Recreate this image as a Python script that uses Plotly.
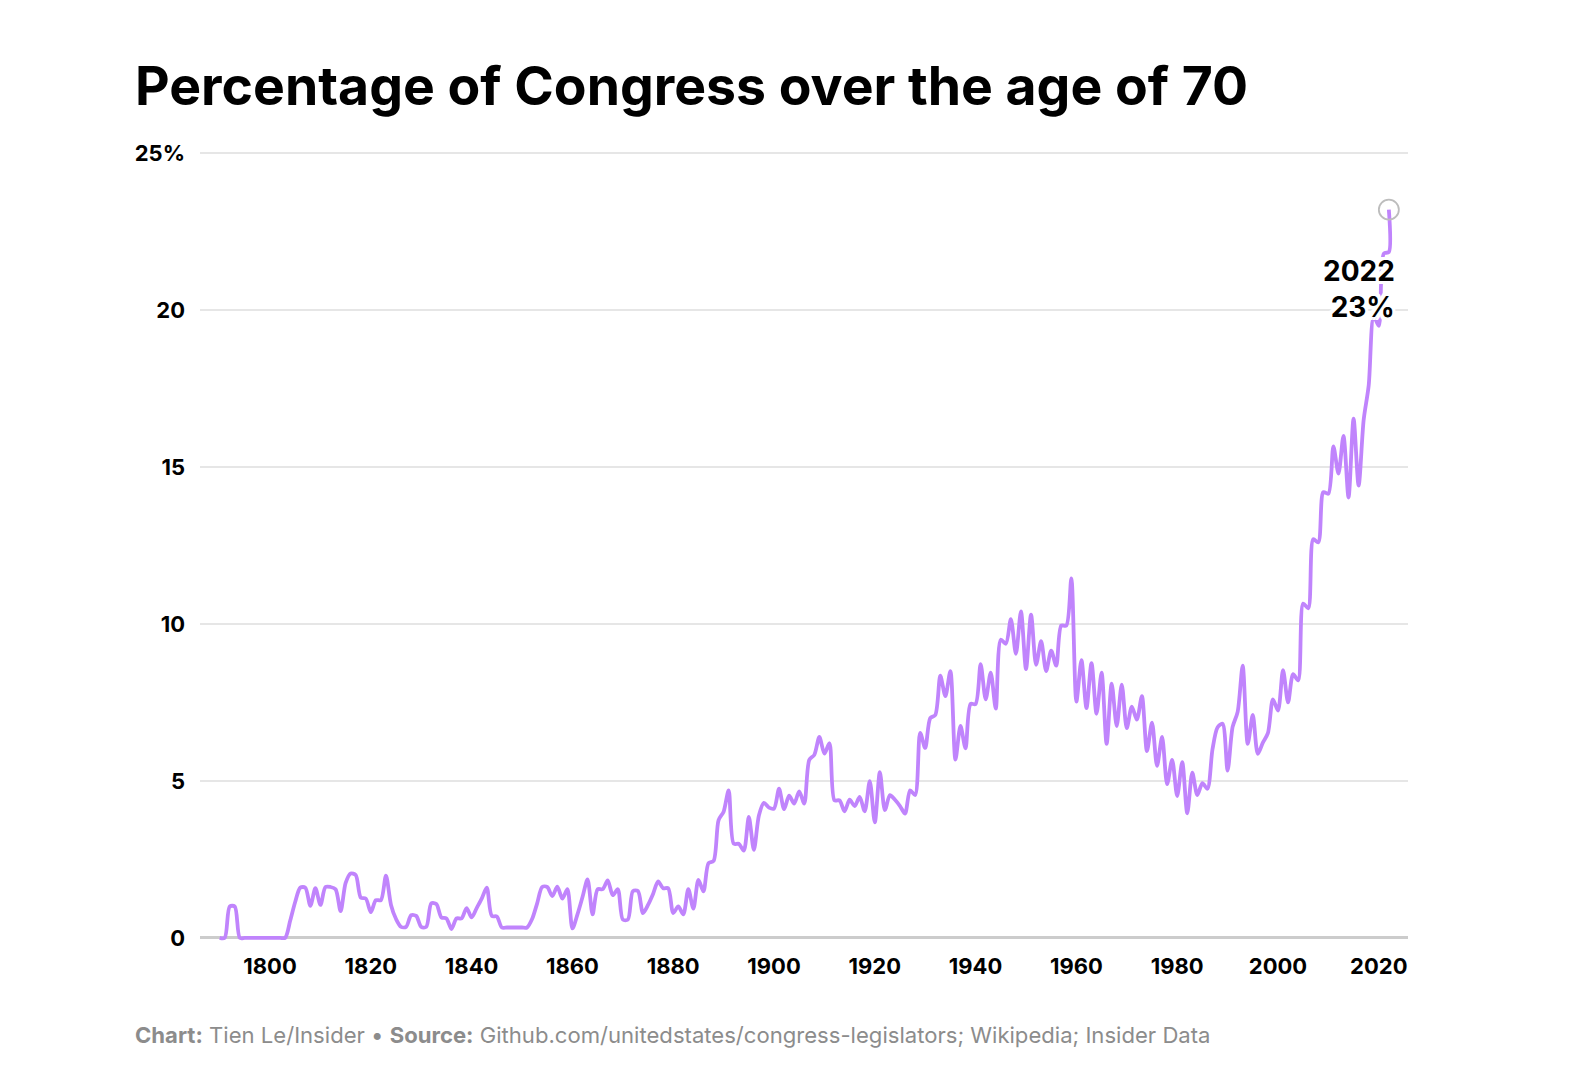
import plotly.graph_objects as go

# ---- data ----
years = list(range(1790, 2023)) + [2022]

values = [
    # 1790-1799
    0, 0, 1.0, 1.0, 0, 0, 0, 0, 0, 0,
    # 1800-1809
    0, 0, 0, 0, 0.55, 1.15, 1.6, 1.6, 1.02, 1.58,
    # 1810-1819
    1.05, 1.62, 1.62, 1.55, 0.85, 1.75, 2.05, 2.0, 1.28, 1.25,
    # 1820-1829
    0.82, 1.2, 1.2, 1.98, 1.05, 0.6, 0.35, 0.35, 0.72, 0.7,
    # 1830-1839
    0.35, 0.35, 1.1, 1.08, 0.65, 0.62, 0.28, 0.62, 0.62, 0.95,
    # 1840-1849
    0.65, 0.95, 1.25, 1.6, 0.7, 0.68, 0.33, 0.33, 0.33, 0.33,
    # 1850-1859
    0.33, 0.33, 0.6, 1.1, 1.62, 1.62, 1.33, 1.63, 1.25, 1.55,
    # 1860-1869
    0.3, 0.75, 1.3, 1.86, 0.75, 1.55, 1.55, 1.83, 1.36, 1.55,
    # 1870-1879
    0.58, 0.58, 1.49, 1.49, 0.79, 1.05, 1.4, 1.8, 1.58, 1.58,
    # 1880-1889
    0.79, 1.0, 0.75, 1.55, 0.93, 1.85, 1.48, 2.38, 2.45, 3.75,
    # 1890-1899
    4.02, 4.7, 3.0, 3.0, 2.78, 3.85, 2.8, 3.9, 4.3, 4.15,
    # 1900-1909
    4.12, 4.75, 4.1, 4.53, 4.28, 4.67, 4.28, 5.67, 5.83, 6.4,
    # 1910-1919
    5.87, 6.2, 4.38, 4.38, 4.03, 4.4, 4.2, 4.49, 4.03, 4.99,
    # 1920-1929
    3.68, 5.28, 4.07, 4.55, 4.4, 4.2, 3.96, 4.7, 4.55, 6.53,
    # 1930-1939
    6.05, 7.0, 7.1, 8.35, 7.7, 8.5, 5.68, 6.75, 6.04, 7.45,
    # 1940-1949
    7.45, 8.72, 7.6, 8.45, 7.3, 9.5, 9.37, 10.15, 9.05, 10.4,
    # 1950-1959
    8.56, 10.3, 8.7, 9.45, 8.5, 9.15, 8.67, 9.95, 9.95, 11.45,
    # 1960-1969
    7.53, 8.85, 7.32, 8.75, 7.14, 8.45, 6.18, 8.1, 6.75, 8.07,
    # 1970-1979
    6.68, 7.37, 6.95, 7.7, 5.95, 6.86, 5.48, 6.4, 4.9, 5.67,
    # 1980-1989
    4.52, 5.6, 3.97, 5.26, 4.55, 4.93, 4.75, 6.0, 6.7, 6.82,
    # 1990-1999
    5.33, 6.72, 7.2, 8.67, 6.18, 7.1, 5.86, 6.22, 6.52, 7.6,
    # 2000-2009
    7.24, 8.53, 7.5, 8.4, 8.2, 10.65, 10.5, 12.7, 12.6, 14.2,
    # 2010-2019
    14.15, 15.66, 14.79, 15.99, 14.03, 16.54, 14.41, 16.5, 17.6, 19.8,
    # 2020-2022 (+ latest 2022 reading)
    19.5, 21.8, 21.85, 23.2,
]

x_ticks = [1800, 1820, 1840, 1860, 1880, 1900, 1920, 1940, 1960, 1980, 2000, 2020]
y_ticks = [0, 5, 10, 15, 20, 25]
y_tick_text = ["0", "5", "10", "15", "20", "25%"]

title_text = "Percentage of Congress over the age of 70"
footer_text = ("<b>Chart:</b> Tien Le/Insider \u2022 <b>Source:</b> "
               "Github.com/unitedstates/congress-legislators; Wikipedia; Insider Data")

LINE = "#C084FC"
FONT = "Inter"

fig = go.Figure()
fig.add_trace(go.Scatter(
    x=years, y=values, mode="lines",
    line=dict(color=LINE, width=3.8, shape="spline", smoothing=0.8),
    hoverinfo="skip", showlegend=False,
))
fig.add_trace(go.Scatter(
    x=[years[-1]], y=[values[-1]], mode="markers",
    marker=dict(size=20, color="rgba(0,0,0,0)", line=dict(color="#bdbdbd", width=1.8)),
    hoverinfo="skip", showlegend=False, cliponaxis=False,
))

halo = ", ".join(f"{dx}px {dy}px 0 #fff" for dx in (-3, 0, 3) for dy in (-3, 0, 3) if dx or dy)
fig.add_annotation(
    x=years[-1], y=values[-1], xref="x", yref="y",
    text=f"{years[-1]}<br>{round(values[-1])}%", showarrow=False,
    xanchor="right", yanchor="middle", align="right",
    xshift=8, yshift=-79,
    font=dict(family=FONT, size=28, color="#000", weight=700, shadow=halo),
)

fig.add_annotation(
    xref="paper", yref="paper", x=-0.0555, y=-0.1185,
    xanchor="left", yanchor="middle", showarrow=False,
    text=footer_text, font=dict(family=FONT, size=22.1, color="#8c8c8c"),
)

fig.update_layout(
    width=1572, height=1088,
    paper_bgcolor="white", plot_bgcolor="white",
    margin=dict(l=192, r=172, t=142, b=155),
    title=dict(text=title_text, x=127 / 1572, xref="container", xanchor="left",
               y=1 - 78 / 1088, yref="container", yanchor="middle",
               font=dict(family=FONT, size=53.5, color="#000", weight=700)),
    font=dict(family=FONT),
)
fig.update_xaxes(
    range=[1786.1, 2025.8], tickvals=x_ticks, showgrid=False, zeroline=False,
    showline=False, ticks="", ticklabelstandoff=10,
    tickfont=dict(family=FONT, size=22, color="#000", weight=700),
)
fig.update_yaxes(
    range=[-0.1, 25.1], tickvals=y_ticks, ticktext=y_tick_text,
    showgrid=True, gridcolor="#e6e6e6", gridwidth=1.5,
    zeroline=True, zerolinecolor="#cccccc", zerolinewidth=2.5,
    showline=False, ticks="", ticklabelstandoff=14,
    tickfont=dict(family=FONT, size=22, color="#000", weight=700),
)

fig.write_html("out.html")
